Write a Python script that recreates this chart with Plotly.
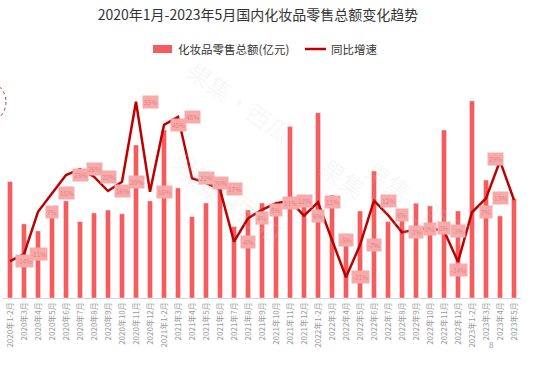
import plotly.graph_objects as go

categories = [
    "2020年1-2月", "2020年3月", "2020年4月", "2020年5月", "2020年6月", "2020年7月",
    "2020年8月", "2020年9月", "2020年10月", "2020年11月", "2020年12月",
    "2021年1-2月", "2021年3月", "2021年4月", "2021年5月", "2021年6月", "2021年7月",
    "2021年8月", "2021年9月", "2021年10月", "2021年11月", "2021年12月",
    "2022年1-2月", "2022年3月", "2022年4月", "2022年5月", "2022年6月", "2022年7月",
    "2022年8月", "2022年9月", "2022年10月", "2022年11月", "2022年12月",
    "2023年1-2月", "2023年3月", "2023年4月", "2023年5月",
]
sales = [512, 326, 295, 396, 427, 336, 374, 387, 370, 673, 427,
         739, 484, 358, 418, 506, 314, 387, 418, 396, 754, 440,
         815, 453, 282, 383, 559, 336, 378, 417, 405, 739, 383,
         867, 519, 361, 436]
growth = [-14.0, -11.0, 7.3, 15.4, 23.2, 25.8, 22.5, 16.3, 20.3, 54.9, 16.0,
          44.9, 48.4, 21.8, 19.8, 17.0, -5.6, 4.5, 8.1, 11.0, 12.0, 5.6,
          11.4, -4.9, -21.0, -7.1, 12.1, 5.9, -1.6, -0.3, 0.2, -0.9, -14.3,
          7.1, 13.1, 29.3, 12.4]

TITLE = "2020年1月-2023年5月国内化妆品零售总额变化趋势"
BAR_NAME = "化妆品零售总额(亿元)"
LINE_NAME = "同比增速"

FONT = "Noto Sans CJK SC"
BAR_COLOR = "#f65c5c"
LINE_COLOR = "#c00000"

W, H = 545, 375
L, R, T, B = 3, 24, 90, 77
PW, PH = W - L - R, H - T - B


def px(x):
    return (x - L) / PW


def py(y):
    return (H - B - y) / PH


fig = go.Figure()
fig.add_trace(go.Bar(x=categories, y=sales, name=BAR_NAME, marker_color=BAR_COLOR,
                     showlegend=False))
fig.add_trace(go.Scatter(x=categories, y=growth, name=LINE_NAME, yaxis="y2",
                         mode="lines", line=dict(color=LINE_COLOR, width=2.5),
                         showlegend=False))

# data labels (offset one category to the right, as in the source)
label_style = {32: (0.0, -8), 35: (-0.35, 2)}
annotations = []
for i, v in enumerate(growth):
    dx, ys = label_style.get(i, (1.0, 0))
    annotations.append(dict(
        x=i + dx, y=v, xref="x", yref="y2", text=f"{int(round(v))}%",
        showarrow=False, yshift=ys, bgcolor="#f8aaaa", borderpad=1,
        font=dict(size=6.5, color="#e48383", family=FONT)))

# faint watermarks
for (wx, wy) in [(225, 140), (480, 150), (170, 255), (435, 250), (240, 50)]:
    annotations.append(dict(
        x=px(wx), y=py(wy), xref="paper", yref="paper", text="果集·西瓜",
        showarrow=False, textangle=35,
        font=dict(size=24, color="rgba(210,210,210,0.16)", family=FONT)))

# custom legend
annotations.append(dict(x=px(176), y=py(49), xref="paper", yref="paper", text=BAR_NAME,
                        xanchor="left", yanchor="middle", showarrow=False,
                        font=dict(size=11.5, color="#333333", family=FONT)))
annotations.append(dict(x=px(329), y=py(49), xref="paper", yref="paper", text=LINE_NAME,
                        xanchor="left", yanchor="middle", showarrow=False,
                        font=dict(size=11.5, color="#333333", family=FONT)))
annotations.append(dict(x=px(496), y=py(352), xref="paper", yref="paper", text="8",
                        showarrow=False, font=dict(size=8, color="#999999", family=FONT)))

shapes = [
    dict(type="rect", xref="paper", yref="paper", x0=px(153), x1=px(172),
         y0=py(53), y1=py(45), fillcolor=BAR_COLOR, line=dict(width=0)),
    dict(type="line", xref="paper", yref="paper", x0=px(305), x1=px(326),
         y0=py(49), y1=py(49), line=dict(color=LINE_COLOR, width=2.5)),
    dict(type="circle", xref="paper", yref="paper", x0=px(-36), x1=px(6),
         y0=py(123), y1=py(81), line=dict(color="#c03030", width=1, dash="dot")),
]

fig.update_layout(
    width=W, height=H,
    margin=dict(l=L, r=R, t=T, b=B, autoexpand=False),
    paper_bgcolor="white", plot_bgcolor="white",
    font=dict(family=FONT, color="#333333"),
    title=dict(text=TITLE, x=258 / W, xanchor="center", y=1 - 15 / H, yanchor="middle",
               font=dict(size=14, color="#333333", family=FONT)),
    bargap=0.64,
    xaxis=dict(type="category", tickmode="linear", tick0=0, dtick=1, tickangle=-90,
               showline=True, linecolor="#d9d9d9", linewidth=1, ticks="",
               showgrid=False, range=[-0.5, 36.5], automargin=False,
               tickfont=dict(size=8, color="#9a9a9a", family=FONT)),
    yaxis=dict(range=[0, 915], visible=False, showgrid=False, zeroline=False,
               automargin=False),
    yaxis2=dict(range=[-30, 60], overlaying="y", side="right", visible=False,
                showgrid=False, zeroline=False, automargin=False),
    annotations=annotations,
    shapes=shapes,
    showlegend=False,
    hovermode=False,
)

fig.write_html("out.html",
               config={"displayModeBar": False, "staticPlot": True},
               post_script="document.body.style.margin='0';"
                           "document.body.style.overflow='hidden';")
